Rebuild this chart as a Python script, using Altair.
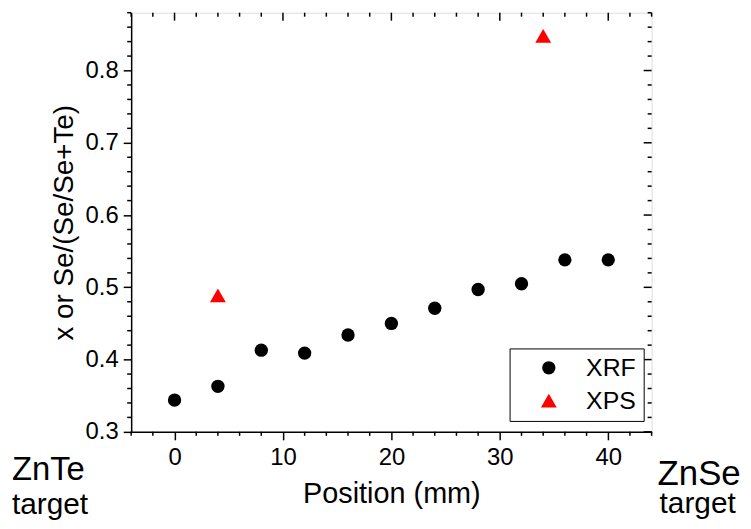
import altair as alt
import pandas as pd

# ---- data ----
xrf_pos = [0, 4, 8, 12, 16, 20, 24, 28, 32, 36, 40]
xrf_val = [0.344, 0.363, 0.413, 0.409, 0.434, 0.450, 0.471, 0.497, 0.505, 0.538, 0.538]
xps_pos = [4, 34]
xps_val = [0.489, 0.848]
series_names = ["XRF", "XPS"]

# ---- axis tick values ----
x_major = [0, 10, 20, 30, 40]
x_minor = [-4, -2, 2, 4, 6, 8, 12, 14, 16, 18, 22, 24, 26, 28, 32, 34, 36, 38, 42, 44]
y_major = [0.3, 0.4, 0.5, 0.6, 0.7, 0.8]
y_minor = [0.32, 0.34, 0.36, 0.38, 0.42, 0.44, 0.46, 0.48, 0.52, 0.54, 0.56, 0.58,
           0.62, 0.64, 0.66, 0.68, 0.72, 0.74, 0.76, 0.78, 0.82, 0.84, 0.86, 0.88]
x_domain = [-4, 44]
y_domain = [0.3, 0.88]

W, H = 524, 422
FONT = "Liberation Sans"
MAJ, MIN = 8, 4
LW = 1.5

df = pd.DataFrame({
    "pos": xrf_pos + xps_pos,
    "val": xrf_val + xps_val,
    "series": ["XRF"] * len(xrf_pos) + ["XPS"] * len(xps_pos),
})
dfx_major = pd.DataFrame({"v": x_major})
dfx_minor = pd.DataFrame({"v": x_minor})
dfy_major = pd.DataFrame({"v": y_major})
dfy_minor = pd.DataFrame({"v": y_minor})

xs = alt.Scale(domain=x_domain, nice=False, zero=False)
ys = alt.Scale(domain=y_domain, nice=False, zero=False)

x_axis = alt.Axis(
    title="Position (mm)", values=x_major, format="d",
    tickSize=MAJ, tickWidth=LW, tickColor="black",
    domainColor="black", domainWidth=LW, grid=False,
    labelFont=FONT, labelFontSize=24, labelColor="black", labelPadding=6,
    titleFont=FONT, titleFontSize=29, titleFontWeight="normal",
    titleColor="black", titlePadding=10)
y_axis = alt.Axis(
    title="x or Se/(Se/Se+Te)", values=y_major, format=".1f",
    tickSize=MAJ, tickWidth=LW, tickColor="black",
    domainColor="black", domainWidth=LW, grid=False,
    labelFont=FONT, labelFontSize=24, labelColor="black", labelPadding=5,
    titleFont=FONT, titleFontSize=28, titleFontWeight="normal",
    titleColor="black", titlePadding=7)

legend = alt.Legend(
    title=None, orient="none", legendX=381, legendY=338,
    strokeColor="black", fillColor="white",
    padding=7, symbolOffset=20, labelOffset=25, rowPadding=7,
    labelFont=FONT, labelFontSize=25, labelColor="black",
    symbolSize=200, symbolStrokeWidth=0, symbolOpacity=1,
)

points = alt.Chart(df).mark_point(filled=True, opacity=1).encode(
    x=alt.X("pos:Q", scale=xs, axis=x_axis),
    y=alt.Y("val:Q", scale=ys, axis=y_axis),
    color=alt.Color("series:N", scale=alt.Scale(domain=series_names, range=["black", "#ff0000"]), legend=legend),
    shape=alt.Shape("series:N", scale=alt.Scale(domain=series_names, range=["circle", "triangle-up"]), legend=legend),
    size=alt.Size("series:N", scale=alt.Scale(domain=series_names, range=[180, 256]), legend=None),
)

def xrule(data, y0, y1):
    return alt.Chart(data).mark_rule(color="black", strokeWidth=LW).encode(
        x=alt.X("v:Q", scale=xs, axis=x_axis), y=alt.value(y0), y2=alt.value(y1))

def yrule(data, x0, x1):
    return alt.Chart(data).mark_rule(color="black", strokeWidth=LW).encode(
        y=alt.Y("v:Q", scale=ys, axis=y_axis), x=alt.value(x0), x2=alt.value(x1))

ticks = [
    xrule(dfx_minor, H, H + MIN),      # bottom minor
    xrule(dfx_major, 0, MAJ),          # top major (inward)
    xrule(dfx_minor, 0, MIN),          # top minor (inward)
    yrule(dfy_minor, 0, -MIN),         # left minor
    yrule(dfy_major, W, W - MAJ),      # right major (inward)
    yrule(dfy_minor, W, W - MIN),      # right minor (inward)
]

def label(txt, x, y, size):
    return alt.Chart(pd.DataFrame({"t": [txt]})).mark_text(
        align="left", baseline="alphabetic", font=FONT, fontSize=size, color="black"
    ).encode(text="t:N", x=alt.value(x), y=alt.value(y))

texts = [
    label("ZnTe", -120, 470, 33),
    label("target", -120, 505, 30),
    label("ZnSe", 530, 476, 35),
    label("target", 532, 504, 30),
]

chart = alt.layer(points, *ticks, *texts).properties(
    width=W, height=H,
    autosize=alt.AutoSizeParams(type="none"),
    padding={"left": 124, "top": 3, "right": 92, "bottom": 88},
).configure_view(stroke="black", strokeWidth=LW).configure_legend(
    strokeWidth=1
).configure(background="white")

chart.save("out.html", embed_options={"renderer": "svg", "actions": False})
